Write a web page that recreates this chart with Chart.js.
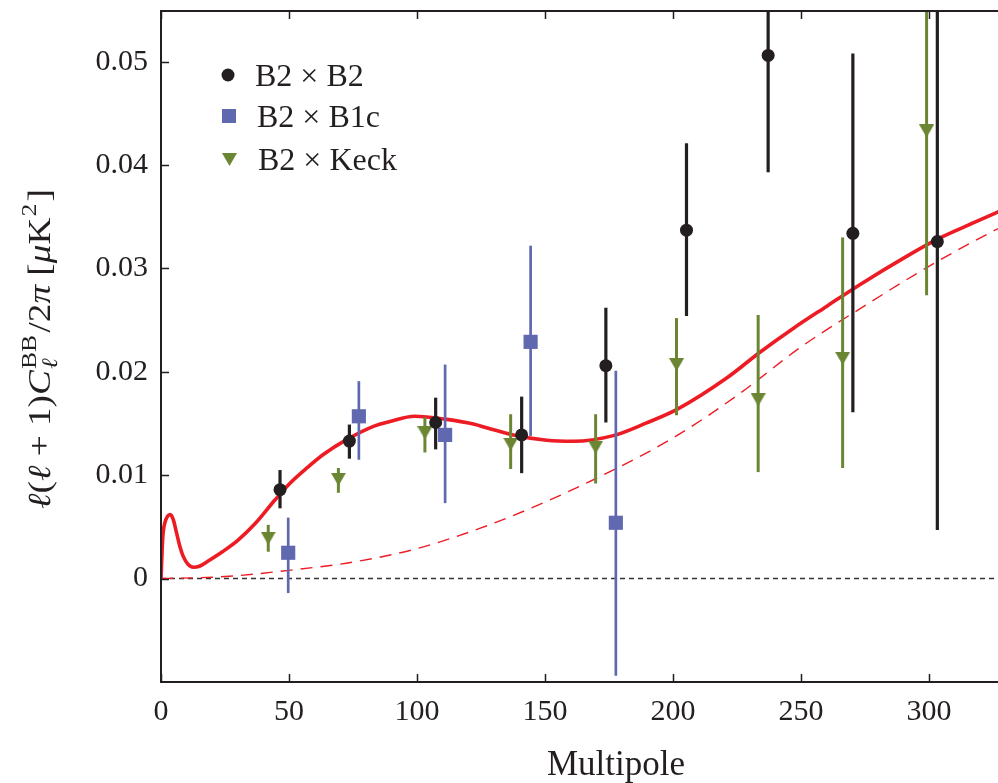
<!DOCTYPE html>
<html>
<head>
<meta charset="utf-8">
<script src="https://cdn.jsdelivr.net/npm/chart.js@4.4.1/dist/chart.umd.min.js"></script>
<style>
  html, body { margin: 0; padding: 0; background: #fff; overflow: hidden; }
  canvas { display: block; }
</style>
</head>
<body>
<canvas id="bbChart" width="998" height="783"></canvas>
<script>
// band powers with 1-sigma ranges, one set per cross spectrum
const b2b2Ell = [46.5, 73.6, 107.3, 140.9, 173.8, 205.3, 237.2, 270.3, 303.3];
const b2b2Val = [0.0086, 0.0133, 0.0151, 0.0139, 0.0206, 0.0337, 0.0506, 0.0334, 0.0326];
const b2b2Lo  = [0.0068, 0.0116, 0.0125, 0.0102, 0.0151, 0.0254, 0.0393, 0.0161, 0.0047];
const b2b2Hi  = [0.0105, 0.0149, 0.0175, 0.0176, 0.0262, 0.0421, 0.0600, 0.0508, 0.0600];

const b2b1cEll = [49.7, 77.3, 111.0, 144.4, 177.7];
const b2b1cVal = [0.0025, 0.0157, 0.0139, 0.0229, 0.0054];
const b2b1cLo  = [-0.0014, 0.0115, 0.0073, 0.0138, -0.0094];
const b2b1cHi  = [0.0059, 0.0191, 0.0207, 0.0322, 0.0201];

const b2keckEll = [41.9, 69.3, 103.1, 136.6, 169.8, 201.4, 233.3, 266.3, 299.1];
const b2keckVal = [0.0039, 0.0096, 0.0141, 0.0130, 0.0127, 0.0207, 0.0173, 0.0213, 0.0433];
const b2keckLo  = [0.0026, 0.0083, 0.0122, 0.0106, 0.0092, 0.0158, 0.0103, 0.0107, 0.0274];
const b2keckHi  = [0.0052, 0.0107, 0.0156, 0.0159, 0.0159, 0.0252, 0.0255, 0.0330, 0.0600];

// model spectra: lensing + tensors (solid) and lensing only (dashed)
const totalEll = [0, 0.7, 1.5, 2.5, 3.6, 4.8, 6.1, 7.5, 8.6, 10.5, 12.6, 15, 18.4, 24, 30, 36.7, 44.5,
  50.3, 57, 63.4, 72.5, 83, 89.5, 99, 111.6, 122, 128.5, 137.6, 150.7, 161, 176.7, 189.7, 201.4,
  221, 234, 247, 260, 273, 291.3, 304.3, 317.3, 330];
const totalVal = [0, 0.0040, 0.0054, 0.0060, 0.0062, 0.0057, 0.0044, 0.0030, 0.0022, 0.0014, 0.0011,
  0.0012, 0.0017, 0.0026, 0.0037, 0.0053, 0.0076, 0.0092, 0.0107, 0.0120, 0.01344, 0.01473, 0.0152,
  0.0157, 0.0154, 0.01495, 0.0145, 0.0139, 0.01338, 0.01328, 0.01383, 0.01506, 0.01634,
  0.0194, 0.0219, 0.0242, 0.02633, 0.02843, 0.03117, 0.03295, 0.0344, 0.0358];

const lensEll = [0, 25, 50, 75, 100, 125, 150, 175, 200, 225, 250, 275, 300, 325, 330];
const lensVal = [0, 0.0002, 0.0008, 0.0016, 0.0029, 0.0049, 0.0074, 0.0103, 0.0136, 0.0177, 0.0224,
  0.0264, 0.0302, 0.0336, 0.0342];

const zeroEll = [0, 330];
const zeroVal = [0, 0];

const xTicks = [0, 50, 100, 150, 200, 250, 300];
const yTicks = [0, 0.01, 0.02, 0.03, 0.04, 0.05];
const yTickLabels = ['0', '0.01', '0.02', '0.03', '0.04', '0.05'];

const seriesNames = ['B2 \u00d7 B2', 'B2 \u00d7 B1c', 'B2 \u00d7 Keck'];

const ink = '#231f20';
const blue = '#6068b0';
const green = '#6b8633';
const red = '#ed1c24';
const serif = '"Liberation Serif", "DejaVu Serif", serif';

function pairs(xs, ys) {
    return xs.map((x, i) => ({ x: x, y: ys[i] }));
}

// downward triangle marker, centred on its bounding box
function downTriangle(w, h, color) {
    const c = document.createElement('canvas');
    c.width = w;
    c.height = h;
    const g = c.getContext('2d');
    g.fillStyle = color;
    g.beginPath();
    g.moveTo(0, 0);
    g.lineTo(w, 0);
    g.lineTo(w / 2, h);
    g.closePath();
    g.fill();
    return c;
}

// vertical error bars, drawn just under each dataset's markers
const errorBars = {
    id: 'errorBars',
    beforeDatasetDraw(chart, args) {
        const ds = chart.data.datasets[args.index];
        if (!ds.errLo) return;
        const { ctx, chartArea: a, scales: { x, y } } = chart;
        ctx.save();
        ctx.beginPath();
        ctx.rect(a.left, a.top, a.right - a.left, a.bottom - a.top);
        ctx.clip();
        ctx.strokeStyle = ds.barColor;
        ctx.lineWidth = ds.barWidth;
        ds.data.forEach((p, i) => {
            const px = x.getPixelForValue(p.x);
            ctx.beginPath();
            ctx.moveTo(px, y.getPixelForValue(ds.errLo[i]));
            ctx.lineTo(px, y.getPixelForValue(ds.errHi[i]));
            ctx.stroke();
        });
        ctx.restore();
    }
};

// box on three sides with inward tick marks
const frame = {
    id: 'frame',
    afterDatasetsDraw(chart) {
        const { ctx, chartArea: a, scales: { x, y } } = chart;
        ctx.save();
        ctx.strokeStyle = ink;
        ctx.lineWidth = 2;
        ctx.beginPath();
        ctx.moveTo(a.right + 2, a.top);
        ctx.lineTo(a.left, a.top);
        ctx.lineTo(a.left, a.bottom);
        ctx.lineTo(a.right + 2, a.bottom);
        ctx.stroke();
        ctx.lineWidth = 1.5;
        ctx.beginPath();
        xTicks.forEach(v => {
            const px = Math.round(x.getPixelForValue(v)) + 0.5;
            ctx.moveTo(px, a.bottom);
            ctx.lineTo(px, a.bottom - 8);
            ctx.moveTo(px, a.top);
            ctx.lineTo(px, a.top + 8);
        });
        yTicks.forEach(v => {
            const py = Math.round(y.getPixelForValue(v)) + 0.5;
            ctx.moveTo(a.left, py);
            ctx.lineTo(a.left + 8, py);
        });
        ctx.stroke();
        ctx.restore();
    }
};

// legend inside the axes plus both axis titles
const labels = {
    id: 'labels',
    afterDraw(chart) {
        const ctx = chart.ctx;
        ctx.save();
        ctx.fillStyle = ink;
        ctx.textBaseline = 'alphabetic';

        // legend
        ctx.beginPath();
        ctx.arc(228, 75, 6.5, 0, Math.PI * 2);
        ctx.fill();
        ctx.fillStyle = blue;
        ctx.fillRect(222, 109, 14, 14);
        ctx.fillStyle = green;
        ctx.beginPath();
        ctx.moveTo(222, 153);
        ctx.lineTo(237, 153);
        ctx.lineTo(229.5, 166);
        ctx.closePath();
        ctx.fill();
        ctx.fillStyle = ink;
        ctx.font = '32px ' + serif;
        ctx.fillText(seriesNames[0], 255, 86);
        ctx.fillText(seriesNames[1], 257, 127);
        ctx.fillText(seriesNames[2], 258, 170);

        // x title
        ctx.font = '35px ' + serif;
        ctx.textAlign = 'center';
        ctx.fillText('Multipole', 616, 775);
        ctx.textAlign = 'left';

        // y title, rotated, with sub/superscripts, stretched along its length
        const big = 32, small = 22;
        const runs = [
            { t: '\u2113', it: true },
            { t: '(' },
            { t: '\u2113', it: true },
            { t: ' + ' },
            { t: '1)' },
            { t: 'C', it: true },
            { sup: 'BB', sub: '\u2113' },
            { t: '/2' },
            { t: '\u03c0', it: true },
            { t: ' [' },
            { t: '\u03bc', it: true },
            { t: 'K' },
            { sup: '2' },
            { t: ']' }
        ];
        const fontFor = (it, size) => (it ? 'italic ' : '') + size + 'px ' + serif;
        const widthOf = r => {
            if (r.t) {
                ctx.font = fontFor(r.it, big);
                return ctx.measureText(r.t).width;
            }
            ctx.font = fontFor(false, small);
            let w = ctx.measureText(r.sup).width;
            if (r.sub) {
                ctx.font = fontFor(true, small);
                w = Math.max(w, ctx.measureText(r.sub).width);
            }
            return w + 3;
        };
        const total = runs.reduce((s, r) => s + widthOf(r), 0);
        const span = 320;
        ctx.translate(50, 349);
        ctx.rotate(-Math.PI / 2);
        ctx.scale(span / total, 1);
        let cx = -total / 2;
        runs.forEach(r => {
            const w = widthOf(r);
            if (r.t) {
                ctx.font = fontFor(r.it, big);
                ctx.fillText(r.t, cx, 0);
            } else {
                ctx.font = fontFor(false, small);
                ctx.fillText(r.sup, cx + 1, -14);
                if (r.sub) {
                    ctx.font = fontFor(true, small);
                    ctx.fillText(r.sub, cx + 1, 7);
                }
            }
            cx += w;
        });
        ctx.restore();
    }
};

new Chart(document.getElementById('bbChart'), {
    type: 'scatter',
    data: {
        datasets: [
            {
                label: seriesNames[0],
                data: pairs(b2b2Ell, b2b2Val),
                errLo: b2b2Lo, errHi: b2b2Hi, barColor: ink, barWidth: 3.2,
                pointStyle: 'circle', pointRadius: 6.5, borderWidth: 0,
                backgroundColor: ink
            },
            {
                label: seriesNames[1],
                data: pairs(b2b1cEll, b2b1cVal),
                errLo: b2b1cLo, errHi: b2b1cHi, barColor: blue, barWidth: 2.7,
                pointStyle: 'rect', pointRadius: 10, borderWidth: 0,
                backgroundColor: blue
            },
            {
                label: seriesNames[2],
                data: pairs(b2keckEll, b2keckVal),
                errLo: b2keckLo, errHi: b2keckHi, barColor: green, barWidth: 3,
                pointStyle: downTriangle(15, 13, green), pointRadius: 7.5, borderWidth: 0,
                backgroundColor: green
            },
            {
                type: 'line',
                data: pairs(totalEll, totalVal),
                borderColor: red, borderWidth: 3.6,
                pointRadius: 0, cubicInterpolationMode: 'monotone', fill: false
            },
            {
                type: 'line',
                data: pairs(lensEll, lensVal),
                borderColor: red, borderWidth: 1.4, borderDash: [12, 8],
                pointRadius: 0, cubicInterpolationMode: 'monotone', fill: false
            },
            {
                type: 'line',
                data: pairs(zeroEll, zeroVal),
                borderColor: '#333333', borderWidth: 1.5, borderDash: [5, 4],
                pointRadius: 0, fill: false
            }
        ]
    },
    options: {
        responsive: false,
        animation: false,
        devicePixelRatio: 1,
        layout: {
            autoPadding: false,
            padding: { top: 11, right: 0, left: 0, bottom: 0 }
        },
        plugins: {
            legend: { display: false },
            tooltip: { enabled: false }
        },
        scales: {
            x: {
                type: 'linear',
                min: 0,
                max: 327,
                afterBuildTicks: s => { s.ticks = xTicks.map(v => ({ value: v })); },
                afterFit: s => {
                    s.height = 101;
                    s.paddingLeft = 0;
                    s.paddingRight = 0;
                },
                grid: { display: false, drawTicks: false },
                border: { display: false },
                ticks: {
                    font: { family: serif, size: 30 },
                    color: ink,
                    padding: 12,
                    maxRotation: 0,
                    callback: (v, i) => String(xTicks[i])
                }
            },
            y: {
                type: 'linear',
                min: -0.01,
                max: 0.0549,
                afterBuildTicks: s => { s.ticks = yTicks.map(v => ({ value: v })); },
                afterFit: s => {
                    s.width = 161;
                    s.paddingTop = 0;
                    s.paddingBottom = 0;
                },
                grid: { display: false, drawTicks: false },
                border: { display: false },
                ticks: {
                    font: { family: serif, size: 30 },
                    color: ink,
                    padding: 13,
                    callback: (v, i) => yTickLabels[i]
                }
            }
        }
    },
    plugins: [errorBars, frame, labels]
});
</script>
</body>
</html>
